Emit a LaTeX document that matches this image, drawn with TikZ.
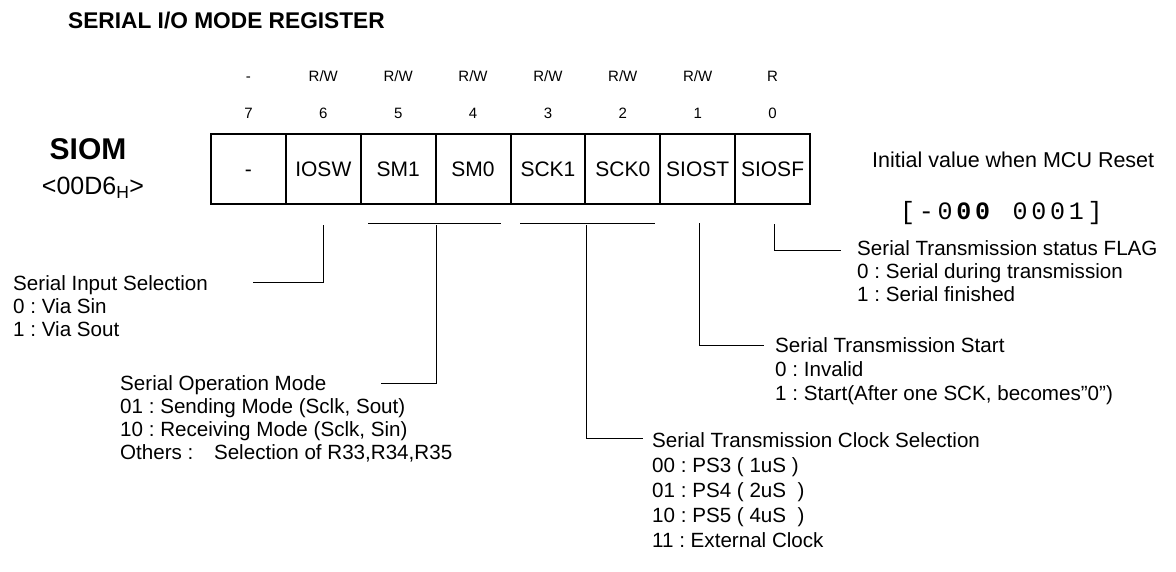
\documentclass[tikz,border=0pt]{standalone}
\usepackage{fontspec}
\setmainfont{Liberation Sans}
\newfontfamily\regmono{Liberation Mono}[LetterSpace=15]
\usetikzlibrary{calc}
\newcommand\mystrut{\rule{0pt}{16pt}}
\frenchspacing
\begin{document}
\begin{tikzpicture}[x=1pt,y=-1pt,
  cell/.style={draw, line width=2pt, minimum width=74.875pt, minimum height=70pt,
    inner sep=0pt, anchor=north west, text height=15pt, text depth=0pt,
    font=\fontsize{21}{25}\selectfont},
  bitlbl/.style={font=\fontsize{15}{18}\selectfont, anchor=base, inner sep=0pt},
  desc/.style={font=\fontsize{20.6}{23}\selectfont, align=left, inner sep=0pt, anchor=north west},
  conn/.style={line width=1pt, line cap=rect}]
\useasboundingbox (0,0) rectangle (1176,571);

% title
\node[anchor=west, inner sep=0pt, font=\fontsize{22.7}{26}\selectfont\bfseries] (title) at (68,20) {SERIAL I/O MODE REGISTER};

% register name
\node[inner sep=0pt, font=\fontsize{30}{34}\selectfont\bfseries] (siom) at (88,149) {SIOM};
\node[inner sep=0pt, font=\fontsize{25}{28}\selectfont] (addr) at (93,188) {<00D6\textsubscript{H}>};

% cells
\foreach \i/\t/\n in {0/-/c7, 1/IOSW/c6, 2/SM1/c5, 3/SM0/c4, 4/SCK1/c3, 5/SCK0/c2, 6/SIOST/c1, 7/SIOSF/c0}
  \node[cell] (\n) at ({210+74.875*\i},133) {\t};

% access and bit numbers
\foreach \n/\a/\b in {c7/{-}/7, c6/{R/W}/6, c5/{R/W}/5, c4/{R/W}/4, c3/{R/W}/3, c2/{R/W}/2, c1/{R/W}/1, c0/{R}/0} {
  \node[bitlbl] (acc\n) at (\n.north |- 0,81) {\a};
  \node[bitlbl] (num\n) at (\n.north |- 0,118.5) {\b};
}

% initial value
\node[anchor=west, inner sep=0pt, font=\fontsize{21.5}{24}\selectfont] (initlbl) at (872,160) {Initial value when MCU Reset};
\node[anchor=west, inner sep=0pt, font=\fontsize{25}{27}\selectfont\regmono] (initval) at (900,213) {[-0\textbf{00} 0001]};

% descriptions
\node[desc] (dsis) at (13,274) {\mystrut Serial Input Selection\\0 : Via Sin\\1 : Via Sout};
\node[desc] (dsom) at (120,374) {\mystrut Serial Operation Mode\\01 : Sending Mode (Sclk, Sout)\\10 : Receiving Mode (Sclk, Sin)\\Others :\hspace{1em}Selection of R33,R34,R35};
\node[desc] (dflag) at (857,239) {\mystrut Serial Transmission status FLAG\\0 : Serial during transmission\\1 : Serial finished};
\node[desc, font=\fontsize{20.6}{24}\selectfont] (dstart) at (775,336) {\mystrut Serial Transmission Start\\0 : Invalid\\1 : Start(After one SCK, becomes”0”)};
\node[desc, font=\fontsize{20.6}{25}\selectfont] (dclk) at (652,431) {\mystrut Serial Transmission Clock Selection\\00 : PS3 ( 1uS )\\01 : PS4 ( 2uS\ \ )\\10 : PS5 ( 4uS\ \ )\\11 : External Clock};

% connector coordinates
\coordinate (t6) at ($(c6.south)+(0,20)$);
\coordinate (e6) at (253,282);
\coordinate (smL) at (368,223);
\coordinate (smR) at (500,223);
\coordinate (smM) at ($(c5.south east)+(0,20)$);
\coordinate (smE) at (381,383);
\coordinate (skL) at (520,223);
\coordinate (skR) at (654,223);
\coordinate (skM) at ($(c3.south east)+(0,20)$);
\coordinate (skE) at (642,438);
\coordinate (t1) at (699,223);
\coordinate (e1) at (763,345);
\coordinate (t0) at (774,224);
\coordinate (e0) at (840,250);

\draw[conn] (t6) |- (e6);
\draw[conn] (smL) -- (smR);
\draw[conn] (smM) |- (smE);
\draw[conn] (skL) -- (skR);
\draw[conn] (skM) |- (skE);
\draw[conn] (t1) |- (e1);
\draw[conn] (t0) |- (e0);
\end{tikzpicture}
\end{document}
